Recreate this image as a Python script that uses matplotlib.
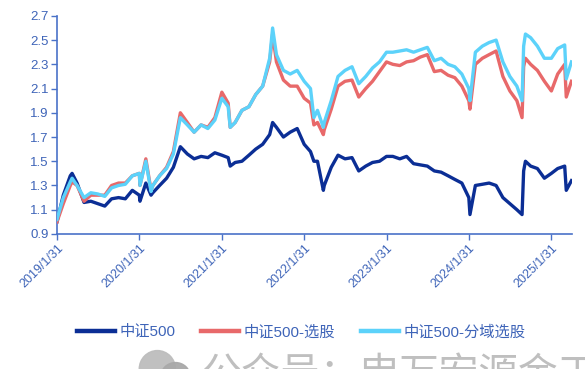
import matplotlib
matplotlib.use("Agg")
import matplotlib.pyplot as plt
from matplotlib.patches import Ellipse
import pandas as pd

plt.rcParams['font.family'] = ['Liberation Sans', 'Noto Sans CJK SC', 'DejaVu Sans']

# month-end readings, 2019-01 .. 2025-04
month_ends = pd.date_range('2019-01-31', periods=76, freq='ME')

csi500 = [
    1.00, 1.22, 1.38, 1.32, 1.16, 1.17, 1.15, 1.13, 1.19, 1.20, 1.19, 1.26,
    1.22, 1.32, 1.24, 1.30, 1.36, 1.45, 1.62, 1.56, 1.52, 1.54, 1.53, 1.57,
    1.55, 1.53, 1.49, 1.50, 1.55, 1.60, 1.64, 1.72, 1.78, 1.70, 1.74, 1.77,
    1.64, 1.58, 1.50, 1.30, 1.45, 1.55, 1.52, 1.53, 1.42, 1.46, 1.49, 1.50,
    1.54, 1.54, 1.52, 1.54, 1.48, 1.47, 1.46, 1.42, 1.41, 1.38, 1.35, 1.32,
    1.20, 1.30, 1.31, 1.32, 1.30, 1.20, 1.15, 1.10, 1.42, 1.46, 1.44, 1.36,
    1.40, 1.44, 1.46, 1.34,
]
select = [
    1.00, 1.15, 1.30, 1.30, 1.17, 1.22, 1.22, 1.22, 1.30, 1.32, 1.32, 1.38,
    1.40, 1.52, 1.30, 1.38, 1.45, 1.58, 1.90, 1.82, 1.74, 1.80, 1.78, 1.86,
    2.07, 1.98, 1.82, 1.92, 1.95, 2.05, 2.12, 2.32, 2.32, 2.17, 2.12, 2.12,
    2.02, 1.98, 1.82, 1.76, 1.93, 2.12, 2.16, 2.17, 2.03, 2.10, 2.16, 2.24,
    2.32, 2.30, 2.29, 2.32, 2.33, 2.36, 2.38, 2.24, 2.25, 2.21, 2.19, 2.12,
    2.00, 2.30, 2.35, 2.38, 2.41, 2.20, 2.08, 2.00, 2.28, 2.30, 2.25, 2.16,
    2.08, 2.22, 2.30, 2.16,
]
domain_select = [
    1.02, 1.20, 1.33, 1.30, 1.20, 1.24, 1.23, 1.21, 1.28, 1.30, 1.31, 1.38,
    1.40, 1.50, 1.30, 1.38, 1.44, 1.56, 1.86, 1.80, 1.74, 1.80, 1.77, 1.84,
    2.02, 1.95, 1.82, 1.92, 1.95, 2.05, 2.12, 2.35, 2.38, 2.25, 2.22, 2.25,
    2.16, 2.10, 1.92, 1.82, 2.00, 2.20, 2.25, 2.28, 2.14, 2.20, 2.27, 2.32,
    2.40, 2.40, 2.41, 2.42, 2.40, 2.42, 2.44, 2.33, 2.35, 2.30, 2.28, 2.22,
    2.10, 2.40, 2.45, 2.48, 2.50, 2.32, 2.20, 2.12, 2.45, 2.52, 2.45, 2.35,
    2.35, 2.43, 2.46, 2.32,
]

# intra-month extremes visible in the chart
extra_dates = ['2019-04-08', '2020-02-03', '2020-03-23', '2021-03-09', '2021-09-13',
               '2022-03-15', '2022-04-26', '2024-02-05', '2024-09-23', '2024-10-08',
               '2025-04-07']
extra_csi500 = [1.40, 1.17, 1.22, 1.46, 1.82, 1.50, 1.26, 1.06, 1.06, 1.50, 1.26]
extra_select = [1.33, 1.30, 1.26, 1.78, 2.55, 1.80, 1.72, 1.93, 1.86, 2.35, 2.03]
extra_domain = [1.36, 1.30, 1.25, 1.78, 2.60, 1.86, 1.78, 2.00, 2.00, 2.55, 2.18]

tick_dates = ['2019-01-31', '2020-01-31', '2021-01-31', '2022-01-31',
              '2023-01-31', '2024-01-31', '2025-01-31']
tick_labels = ['2019/1/31', '2020/1/31', '2021/1/31', '2022/1/31',
               '2023/1/31', '2024/1/31', '2025/1/31']

df = pd.DataFrame({'date': month_ends, 'csi500': csi500,
                   'select': select, 'domain': domain_select})
extra = pd.DataFrame({'date': pd.to_datetime(extra_dates), 'csi500': extra_csi500,
                      'select': extra_select, 'domain': extra_domain})
df = pd.concat([df, extra]).sort_values('date').reset_index(drop=True)

AXIS_BLUE = '#4A72C8'
TEXT_BLUE = '#3E64B8'

fig = plt.figure(figsize=(5.85, 3.69), dpi=100)
ax = fig.add_axes([0.0974, 0.366, 0.8806, 0.591])

ax.plot(df['date'], df['csi500'], color='#0B2E95', lw=2.4, label='中证500', zorder=2)
ax.plot(df['date'], df['select'], color='#E8696A', lw=2.4, label='中证500-选股', zorder=3)
ax.plot(df['date'], df['domain'], color='#5CD2FA', lw=2.4, label='中证500-分域选股', zorder=4)

ax.set_ylim(0.9, 2.7)
ax.set_yticks([0.9, 1.1, 1.3, 1.5, 1.7, 1.9, 2.1, 2.3, 2.5, 2.7])
ax.set_xlim(pd.Timestamp('2019-01-31'), pd.Timestamp('2025-05-03'))
ax.set_xticks(pd.to_datetime(tick_dates))
ax.set_xticklabels(tick_labels, rotation=45, ha='right', rotation_mode='anchor')

for side in ['top', 'right']:
    ax.spines[side].set_visible(False)
for side in ['left', 'bottom']:
    ax.spines[side].set_color(AXIS_BLUE)
    ax.spines[side].set_linewidth(1.2)
ax.tick_params(axis='both', colors=AXIS_BLUE, labelcolor=TEXT_BLUE, length=4, width=1)
ax.tick_params(axis='y', labelsize=9.5, pad=2)
ax.tick_params(axis='x', labelsize=9, pad=2)

leg = fig.legend(loc='center', bbox_to_anchor=(0.515, 0.1), ncol=3, frameon=False,
                 fontsize=11, handlelength=2.5, columnspacing=1.65, handletextpad=0.3)
for t in leg.get_texts():
    t.set_color(TEXT_BLUE)
for ln in leg.get_lines():
    ln.set_linewidth(3.2)

# watermark, cut off at the bottom edge as in the source
fig.text(0.345, -0.045, '公众号：申万宏源金工', fontsize=28.5, color='#B8B8B8',
         va='baseline', ha='left', alpha=0.9)
fig.patches.append(Ellipse((0.269, 0.0), 0.062, 0.1, transform=fig.transFigure,
                           color='#BDBDBD', alpha=0.95))
fig.patches.append(Ellipse((0.3, -0.02), 0.05, 0.075, transform=fig.transFigure,
                           color='#A9A9A9', alpha=0.95))

fig.savefig('out.png', dpi=100)
